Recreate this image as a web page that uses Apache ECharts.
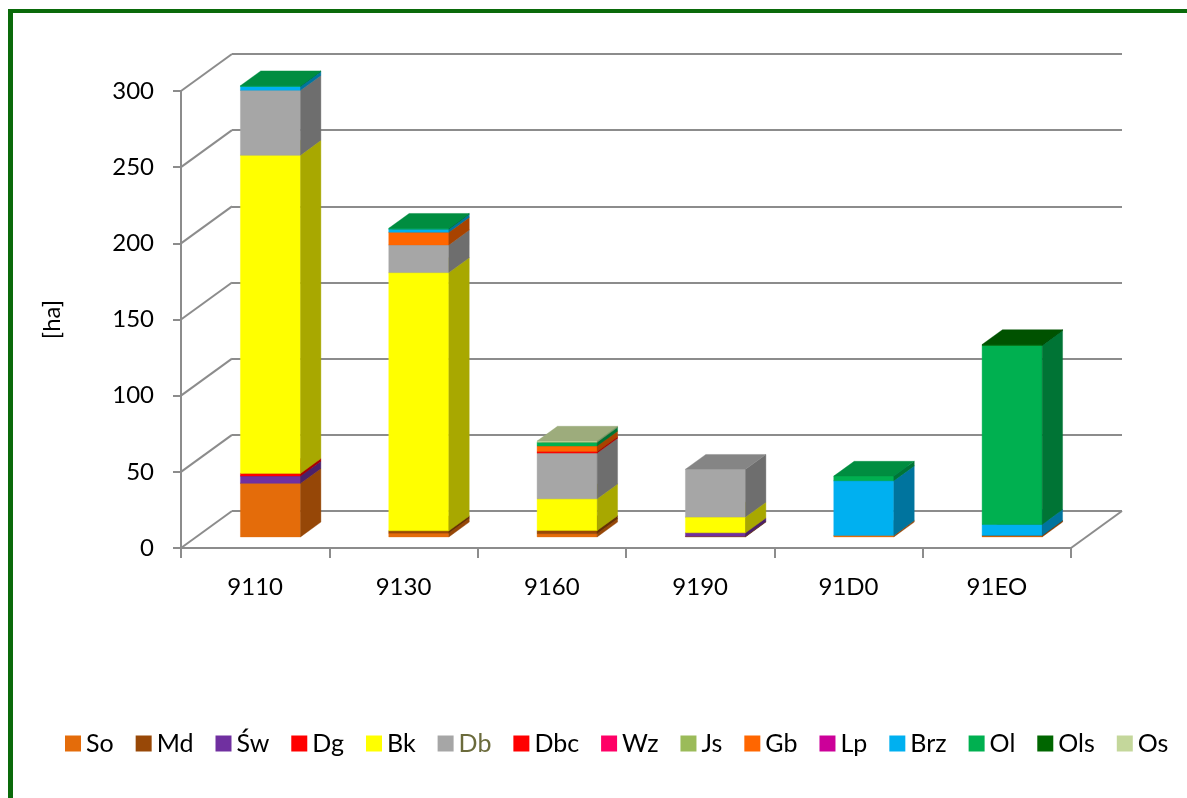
<!DOCTYPE html>
<html>
<head>
<meta charset="utf-8">
<script src="https://cdn.jsdelivr.net/npm/echarts@6/dist/echarts.min.js"></script>
<style>
  html, body { margin: 0; padding: 0; background: #ffffff; }
  #chart { width: 1187px; height: 798px; }
</style>
</head>
<body>
<div id="chart"></div>
<script>
// Habitat types on the category axis
const categories = ['9110', '9130', '9160', '9190', '91D0', '91EO'];
// Value axis ticks [ha]
const yTicks = [0, 50, 100, 150, 200, 250, 300];

// Area of each species per habitat [ha], stacked bottom to top in this order
const So  = [35.2, 2.5, 2.2, 0,    1.0,  0.6];
const Md  = [0,    1.5, 2.0, 0.4,  0,    0.4];
const Sw  = [4.8,  0,   0,   2.3,  0,    0];
const Dg  = [1.7,  0,   0,   0,    0,    0];
const Bk  = [208.9, 169.5, 20.8, 10.3, 0, 0];
const Db  = [42.6, 18.2, 30.0, 31.4, 0,   0];
const Dbc = [0,    0,   1.0, 0,    0,    0];
const Wz  = [0,    0,   0,   0,    0,    0];
const Js  = [0,    0,   0,   0,    0,    0];
const Gb  = [0,    8.3, 3.7, 0,    0,    0];
const Lp  = [0,    0,   0,   0,    0,    0];
const Brz = [2.5,  2.0, 0,   0,    35.9, 7.2];
const Ol  = [0.5,  0.6, 2.5, 0,    3.0,  117.5];
const Ols = [0,    0,   0,   0,    0,    0.6];
const Os  = [0,    0,   0.7, 0,    0,    0];

const speciesNames  = ['So', 'Md', 'Św', 'Dg', 'Bk', 'Db', 'Dbc', 'Wz', 'Js', 'Gb', 'Lp', 'Brz', 'Ol', 'Ols', 'Os'];
const speciesValues = [So, Md, Sw, Dg, Bk, Db, Dbc, Wz, Js, Gb, Lp, Brz, Ol, Ols, Os];
const speciesColors = ['#E46C0A', '#984807', '#7030A0', '#FF0000', '#FFFF00', '#A6A6A6', '#FF0000',
                       '#FF0066', '#9BBB59', '#FF6600', '#CC0099', '#00B0F0', '#00B050', '#006600', '#C4D79B'];

// Oblique projection of the depth axis
const WALL_DX = 51, WALL_DY = -37;          // full floor depth
const FRONT_T = 0.3, DEPTH_T = 0.4;         // bar placement inside the depth
const BAR_RATIO = 0.405;                    // bar width / category band
const GRID_COLOR = '#8c8c8c';
const FONT = 'Lato, "Open Sans", sans-serif';

function shade(hex, k) {
  const n = parseInt(hex.slice(1), 16);
  const r = Math.round(((n >> 16) & 255) * k);
  const g = Math.round(((n >> 8) & 255) * k);
  const b = Math.round((n & 255) * k);
  return 'rgb(' + r + ',' + g + ',' + b + ')';
}

function makeBoxRenderer(color) {
  const sideColor = shade(color, 0.66);
  const topColor = shade(color, 0.8);
  return function (params, api) {
    const cat = api.value(0);
    const base = api.value(1);
    const top = api.value(2);
    const band = api.size([1, 0])[0];
    const w = band * BAR_RATIO;
    const fdx = WALL_DX * FRONT_T, fdy = WALL_DY * FRONT_T;
    const dx = WALL_DX * DEPTH_T, dy = WALL_DY * DEPTH_T;
    const cx = api.coord([cat, 0])[0];
    const x0 = cx - w / 2 + fdx;
    const yb = api.coord([cat, base])[1] + fdy;
    const yt = api.coord([cat, top])[1] + fdy;
    return {
      type: 'group',
      children: [
        { type: 'rect', shape: { x: x0, y: yt, width: w, height: yb - yt },
          style: { fill: color, stroke: color, lineWidth: 0.4 } },
        { type: 'polygon', shape: { points: [[x0 + w, yb], [x0 + w + dx, yb + dy], [x0 + w + dx, yt + dy], [x0 + w, yt]] },
          style: { fill: sideColor, stroke: sideColor, lineWidth: 0.4 } },
        { type: 'polygon', shape: { points: [[x0, yt], [x0 + w, yt], [x0 + w + dx, yt + dy], [x0 + dx, yt + dy]] },
          style: { fill: topColor, stroke: topColor, lineWidth: 0.4 } }
      ]
    };
  };
}

// Left wall diagonals and the right floor edge
function renderWalls(params, api) {
  const v = api.value(1);
  const band = api.size([1, 0])[0];
  const p = api.coord([0, v]);
  const xl = p[0] - band / 2;
  const children = [
    { type: 'line', shape: { x1: xl, y1: p[1], x2: xl + WALL_DX, y2: p[1] + WALL_DY },
      style: { stroke: GRID_COLOR, lineWidth: 2 } }
  ];
  if (v === 0) {
    const xr = api.coord([categories.length - 1, 0])[0] + band / 2;
    children.push({ type: 'line', shape: { x1: xr, y1: p[1], x2: xr + WALL_DX, y2: p[1] + WALL_DY },
      style: { stroke: GRID_COLOR, lineWidth: 2 } });
  }
  return { type: 'group', children: children };
}

// Cumulative stacking
const running = categories.map(() => 0);
const barSeries = speciesNames.map((name, s) => {
  const data = [];
  categories.forEach((c, i) => {
    const v = speciesValues[s][i];
    if (v > 0) {
      data.push([i, running[i], running[i] + v]);
      running[i] += v;
    }
  });
  return {
    name: name,
    type: 'custom',
    xAxisIndex: 0,
    yAxisIndex: 0,
    z: 3,
    itemStyle: { color: speciesColors[s] },
    encode: { x: 0, y: 2 },
    renderItem: makeBoxRenderer(speciesColors[s]),
    data: data
  };
});

const chart = echarts.init(document.getElementById('chart'), null, { renderer: 'canvas' });

chart.setOption({
  backgroundColor: '#ffffff',
  animation: false,
  graphic: [
    { type: 'rect', shape: { x: 8, y: 9, width: 1185, height: 4 }, style: { fill: '#0a6a0a' }, z: 10 },
    { type: 'rect', shape: { x: 8, y: 9, width: 5, height: 795 }, style: { fill: '#0a6a0a' }, z: 10 }
  ],
  legend: {
    data: speciesNames.map(n => n === 'Db' ? { name: n, textStyle: { color: '#6b6b3c' } } : { name: n }),
    left: 60,
    top: 726,
    icon: 'rect',
    itemWidth: 16,
    itemHeight: 16,
    itemGap: 22,
    textStyle: { fontFamily: FONT, fontSize: 25, color: '#000000' }
  },
  grid: [
    { left: 181, right: 116, top: 91, bottom: 250 },
    { left: 181 + WALL_DX, right: 116 - WALL_DX, top: 91 + WALL_DY, bottom: 250 - WALL_DY }
  ],
  xAxis: [
    {
      gridIndex: 0, type: 'category', data: categories,
      axisLine: { show: true, lineStyle: { color: GRID_COLOR, width: 2 } },
      axisTick: { show: true, length: 10, alignWithLabel: false, lineStyle: { color: GRID_COLOR, width: 2 } },
      axisLabel: { margin: 27, fontFamily: FONT, fontSize: 24, color: '#000000' },
      splitLine: { show: false }
    },
    {
      gridIndex: 1, type: 'category', data: categories,
      axisLine: { show: false }, axisTick: { show: false }, axisLabel: { show: false }, splitLine: { show: false }
    }
  ],
  yAxis: [
    {
      gridIndex: 0, type: 'value', min: yTicks[0], max: yTicks[yTicks.length - 1], interval: 50,
      name: '[ha]', nameLocation: 'middle', nameRotate: 90, nameGap: 117,
      nameTextStyle: { fontFamily: FONT, fontSize: 24, color: '#000000' },
      axisLine: { show: true, lineStyle: { color: GRID_COLOR, width: 2 } },
      axisTick: { show: true, length: 8, lineStyle: { color: GRID_COLOR, width: 2 } },
      axisLabel: { margin: 27, fontFamily: FONT, fontSize: 24, color: '#000000' },
      splitLine: { show: false }
    },
    {
      gridIndex: 1, type: 'value', min: yTicks[0], max: yTicks[yTicks.length - 1], interval: 50,
      axisLine: { show: false }, axisTick: { show: false }, axisLabel: { show: false },
      splitLine: { show: true, lineStyle: { color: GRID_COLOR, width: 2 } }
    }
  ],
  series: [
    {
      name: 'walls',
      type: 'custom',
      xAxisIndex: 0,
      yAxisIndex: 0,
      z: 1,
      silent: true,
      encode: { x: 0, y: 1 },
      renderItem: renderWalls,
      data: yTicks.map(v => [0, v])
    }
  ].concat(barSeries)
});
</script>
</body>
</html>
